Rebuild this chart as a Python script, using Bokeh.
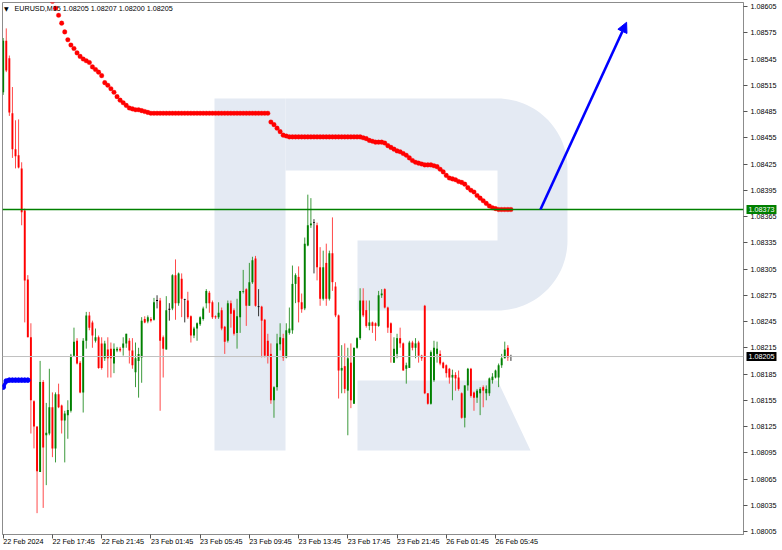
import numpy as np
from bokeh.plotting import figure
from bokeh.models import (ColumnDataSource, FixedTicker, Label, Arrow, NormalHead,
                          Range1d, Span, PrintfTickFormatter)
from bokeh.embed import file_html
from bokeh.resources import INLINE

# ---------------- data (EURUSD M15) ----------------
opens = [
    1.08507, 1.08566, 1.08546, 1.08483, 1.08442, 1.08435, 1.08420, 1.08372, 1.08293, 1.08227,
    1.08154, 1.08125, 1.08073, 1.08176, 1.08115, 1.08117, 1.08147, 1.08100, 1.08162, 1.08149,
    1.08132, 1.08138, 1.08143, 1.08206, 1.08223, 1.08198, 1.08164, 1.08223, 1.08252, 1.08244,
    1.08223, 1.08227, 1.08220, 1.08203, 1.08213, 1.08214, 1.08197, 1.08212, 1.08214, 1.08215,
    1.08220, 1.08223, 1.08212, 1.08187, 1.08200, 1.08204, 1.08248, 1.08245, 1.08248, 1.08247,
    1.08269, 1.08269, 1.08227, 1.08213, 1.08259, 1.08260, 1.08298, 1.08266, 1.08294, 1.08270,
    1.08269, 1.08251, 1.08229, 1.08237, 1.08242, 1.08248, 1.08266, 1.08278, 1.08267, 1.08251,
    1.08250, 1.08258, 1.08239, 1.08223, 1.08266, 1.08258, 1.08232, 1.08250, 1.08279, 1.08282,
    1.08263, 1.08290, 1.08317, 1.08262, 1.08262, 1.08247, 1.08223, 1.08208, 1.08155, 1.08170,
    1.08219, 1.08226, 1.08204, 1.08232, 1.08235, 1.08288, 1.08296, 1.08267, 1.08260, 1.08332,
    1.08355, 1.08358, 1.08355, 1.08307, 1.08271, 1.08312, 1.08271, 1.08323, 1.08285, 1.08252,
    1.08189, 1.08194, 1.08166, 1.08198, 1.08151, 1.08215, 1.08226, 1.08269, 1.08258, 1.08240,
    1.08244, 1.08243, 1.08240, 1.08275, 1.08282, 1.08261, 1.08243, 1.08198, 1.08208, 1.08226,
    1.08220, 1.08191, 1.08192, 1.08221, 1.08215, 1.08221, 1.08206, 1.08263, 1.08163, 1.08151,
    1.08178, 1.08208, 1.08208, 1.08198, 1.08195, 1.08191, 1.08181, 1.08184, 1.08181, 1.08163,
    1.08135, 1.08172, 1.08191, 1.08164, 1.08158, 1.08163, 1.08170, 1.08163, 1.08163, 1.08178,
    1.08181, 1.08181, 1.08195, 1.08203, 1.08215, 1.08205,
]
highs = [
    1.08569, 1.08580, 1.08549, 1.08513, 1.08475, 1.08476, 1.08427, 1.08374, 1.08298, 1.08243,
    1.08155, 1.08125, 1.08200, 1.08178, 1.08152, 1.08191, 1.08164, 1.08164, 1.08174, 1.08150,
    1.08143, 1.08155, 1.08208, 1.08238, 1.08226, 1.08200, 1.08226, 1.08256, 1.08256, 1.08246,
    1.08237, 1.08229, 1.08227, 1.08223, 1.08227, 1.08221, 1.08220, 1.08216, 1.08216, 1.08227,
    1.08231, 1.08226, 1.08226, 1.08221, 1.08215, 1.08250, 1.08251, 1.08252, 1.08250, 1.08272,
    1.08275, 1.08272, 1.08229, 1.08274, 1.08266, 1.08299, 1.08316, 1.08301, 1.08300, 1.08271,
    1.08279, 1.08252, 1.08239, 1.08244, 1.08251, 1.08262, 1.08282, 1.08280, 1.08269, 1.08252,
    1.08267, 1.08261, 1.08240, 1.08269, 1.08269, 1.08260, 1.08271, 1.08280, 1.08304, 1.08283,
    1.08312, 1.08319, 1.08320, 1.08282, 1.08263, 1.08248, 1.08231, 1.08220, 1.08171, 1.08231,
    1.08243, 1.08231, 1.08243, 1.08261, 1.08309, 1.08300, 1.08308, 1.08277, 1.08341, 1.08390,
    1.08386, 1.08362, 1.08358, 1.08330, 1.08326, 1.08334, 1.08326, 1.08364, 1.08290, 1.08253,
    1.08218, 1.08220, 1.08215, 1.08220, 1.08215, 1.08227, 1.08283, 1.08283, 1.08269, 1.08269,
    1.08245, 1.08244, 1.08280, 1.08282, 1.08283, 1.08262, 1.08244, 1.08227, 1.08231, 1.08238,
    1.08221, 1.08198, 1.08223, 1.08223, 1.08226, 1.08223, 1.08207, 1.08264, 1.08163, 1.08212,
    1.08223, 1.08222, 1.08212, 1.08199, 1.08196, 1.08192, 1.08190, 1.08187, 1.08189, 1.08164,
    1.08172, 1.08192, 1.08192, 1.08165, 1.08168, 1.08170, 1.08172, 1.08172, 1.08181, 1.08186,
    1.08190, 1.08197, 1.08208, 1.08222, 1.08218, 1.08207,
]
lows = [
    1.08504, 1.08530, 1.08480, 1.08432, 1.08420, 1.08420, 1.08355, 1.08244, 1.08227, 1.08117,
    1.08100, 1.08026, 1.08073, 1.08032, 1.08058, 1.08115, 1.08090, 1.08084, 1.08146, 1.08117,
    1.08084, 1.08111, 1.08141, 1.08205, 1.08196, 1.08163, 1.08141, 1.08214, 1.08235, 1.08215,
    1.08221, 1.08191, 1.08190, 1.08200, 1.08181, 1.08181, 1.08186, 1.08210, 1.08210, 1.08206,
    1.08215, 1.08197, 1.08191, 1.08170, 1.08158, 1.08175, 1.08243, 1.08243, 1.08244, 1.08246,
    1.08260, 1.08143, 1.08181, 1.08213, 1.08246, 1.08258, 1.08247, 1.08263, 1.08250, 1.08244,
    1.08248, 1.08221, 1.08226, 1.08223, 1.08240, 1.08246, 1.08260, 1.08255, 1.08248, 1.08248,
    1.08248, 1.08235, 1.08208, 1.08221, 1.08238, 1.08229, 1.08214, 1.08232, 1.08277, 1.08240,
    1.08263, 1.08288, 1.08262, 1.08251, 1.08204, 1.08204, 1.08197, 1.08151, 1.08135, 1.08166,
    1.08212, 1.08200, 1.08203, 1.08230, 1.08231, 1.08266, 1.08244, 1.08255, 1.08258, 1.08331,
    1.08352, 1.08300, 1.08292, 1.08263, 1.08269, 1.08263, 1.08269, 1.08280, 1.08250, 1.08157,
    1.08163, 1.08163, 1.08115, 1.08146, 1.08151, 1.08214, 1.08224, 1.08250, 1.08238, 1.08235,
    1.08232, 1.08223, 1.08239, 1.08272, 1.08260, 1.08232, 1.08198, 1.08198, 1.08203, 1.08215,
    1.08189, 1.08174, 1.08192, 1.08212, 1.08203, 1.08198, 1.08200, 1.08162, 1.08150, 1.08150,
    1.08176, 1.08198, 1.08195, 1.08191, 1.08181, 1.08174, 1.08155, 1.08166, 1.08166, 1.08134,
    1.08124, 1.08166, 1.08158, 1.08143, 1.08152, 1.08138, 1.08147, 1.08155, 1.08160, 1.08174,
    1.08180, 1.08170, 1.08192, 1.08203, 1.08200, 1.08200,
]
closes = [
    1.08566, 1.08532, 1.08484, 1.08442, 1.08434, 1.08421, 1.08370, 1.08292, 1.08227, 1.08155,
    1.08125, 1.08074, 1.08176, 1.08101, 1.08118, 1.08147, 1.08100, 1.08162, 1.08147, 1.08132,
    1.08140, 1.08144, 1.08206, 1.08222, 1.08197, 1.08164, 1.08223, 1.08252, 1.08238, 1.08229,
    1.08227, 1.08192, 1.08192, 1.08220, 1.08203, 1.08203, 1.08214, 1.08214, 1.08212, 1.08220,
    1.08231, 1.08212, 1.08195, 1.08203, 1.08208, 1.08246, 1.08244, 1.08250, 1.08246, 1.08267,
    1.08269, 1.08223, 1.08214, 1.08258, 1.08259, 1.08298, 1.08266, 1.08300, 1.08271, 1.08270,
    1.08250, 1.08229, 1.08237, 1.08243, 1.08250, 1.08260, 1.08280, 1.08266, 1.08250, 1.08250,
    1.08255, 1.08237, 1.08222, 1.08266, 1.08254, 1.08231, 1.08251, 1.08280, 1.08280, 1.08263,
    1.08290, 1.08315, 1.08263, 1.08262, 1.08246, 1.08206, 1.08205, 1.08155, 1.08170, 1.08220,
    1.08227, 1.08204, 1.08235, 1.08237, 1.08288, 1.08298, 1.08267, 1.08259, 1.08334, 1.08355,
    1.08357, 1.08358, 1.08307, 1.08271, 1.08307, 1.08271, 1.08323, 1.08290, 1.08252, 1.08189,
    1.08192, 1.08168, 1.08203, 1.08155, 1.08215, 1.08226, 1.08269, 1.08252, 1.08240, 1.08244,
    1.08240, 1.08240, 1.08275, 1.08277, 1.08261, 1.08238, 1.08232, 1.08214, 1.08226, 1.08220,
    1.08189, 1.08195, 1.08221, 1.08215, 1.08220, 1.08206, 1.08203, 1.08163, 1.08151, 1.08210,
    1.08215, 1.08214, 1.08197, 1.08192, 1.08186, 1.08181, 1.08184, 1.08180, 1.08168, 1.08135,
    1.08172, 1.08191, 1.08160, 1.08158, 1.08166, 1.08168, 1.08166, 1.08168, 1.08180, 1.08182,
    1.08189, 1.08195, 1.08203, 1.08213, 1.08204, 1.08205,
]

# red dotted indicator, starts at bar 16
ma_first_bar = 16
ma_values = [
    1.08611, 1.08603, 1.08595, 1.08586, 1.08576, 1.08567, 1.08561, 1.08557, 1.08552, 1.08548,
    1.08545, 1.08543, 1.08541, 1.08536, 1.08533, 1.08530, 1.08526, 1.08518, 1.08515, 1.08511,
    1.08507, 1.08502, 1.08498, 1.08495, 1.08492, 1.08489, 1.08488, 1.08487, 1.08487, 1.08486,
    1.08485, 1.08484, 1.08483, 1.08483, 1.08483, 1.08483, 1.08483, 1.08483, 1.08483, 1.08483,
    1.08483, 1.08483, 1.08483, 1.08483, 1.08483, 1.08483, 1.08483, 1.08483, 1.08483, 1.08483,
    1.08483, 1.08483, 1.08483, 1.08483, 1.08483, 1.08483, 1.08483, 1.08483, 1.08483, 1.08483,
    1.08483, 1.08483, 1.08483, 1.08483, 1.08483, 1.08483, 1.08483, 1.08483, 1.08483, 1.08483,
    1.08483, 1.08473, 1.08470, 1.08466, 1.08462, 1.08458, 1.08457, 1.08456, 1.08456, 1.08456,
    1.08456, 1.08456, 1.08456, 1.08456, 1.08456, 1.08456, 1.08456, 1.08456, 1.08456, 1.08456,
    1.08456, 1.08456, 1.08456, 1.08456, 1.08456, 1.08456, 1.08456, 1.08456, 1.08456, 1.08456,
    1.08456, 1.08455, 1.08454, 1.08452, 1.08451, 1.08450, 1.08450, 1.08450, 1.08449, 1.08446,
    1.08444, 1.08442, 1.08440, 1.08439, 1.08437, 1.08435, 1.08432, 1.08429, 1.08427, 1.08426,
    1.08425, 1.08424, 1.08424, 1.08424, 1.08423, 1.08422, 1.08419, 1.08416, 1.08412, 1.08409,
    1.08408, 1.08407, 1.08405, 1.08404, 1.08402, 1.08398, 1.08395, 1.08393, 1.08389, 1.08386,
    1.08383, 1.08380, 1.08377, 1.08375, 1.08374, 1.08373, 1.08373, 1.08373, 1.08373, 1.08373,
]

# blue dotted indicator, bars 0..8
blue_values = [1.08170, 1.08177, 1.08178, 1.08178, 1.08178, 1.08178, 1.08178, 1.08178, 1.08178]

level_price = 1.08373      # green horizontal level
bid_price = 1.08205        # last price line
arrow_bars = [174.6, 202.6]
arrow_prices = [1.08373, 1.08587]

time_tick_bars = [0, 16, 32, 48, 64, 80, 96, 112, 128, 144, 160]
time_tick_labels = ["22 Feb 2024", "22 Feb 17:45", "22 Feb 21:45", "23 Feb 01:45",
                    "23 Feb 05:45", "23 Feb 09:45", "23 Feb 13:45", "23 Feb 17:45",
                    "23 Feb 21:45", "26 Feb 01:45", "26 Feb 05:45"]
price_ticks = [1.08005, 1.08035, 1.08065, 1.08095, 1.08125, 1.08155, 1.08185, 1.08215,
               1.08245, 1.08275, 1.08305, 1.08335, 1.08365, 1.08395, 1.08425, 1.08455,
               1.08485, 1.08515, 1.08545, 1.08575, 1.08605]
title_text = "EURUSD,M15  1.08205 1.08207 1.08200 1.08205"

# ---------------- layout ----------------
FW, FH = 741, 532
X0, X1 = -0.2275, 240.59
Y0, Y1 = 1.080016, 1.086096
FONT = "Liberation Sans"
FS = "7.2px"


def fx(px):   # frame pixel -> bar coordinate (for decoration only)
    return X0 + (px - 2) * (X1 - X0) / FW


def fy(py):   # frame pixel -> price coordinate (for decoration only)
    return Y1 - (py - 2) * (Y1 - Y0) / FH


p = figure(frame_width=FW, frame_height=FH,
           x_range=Range1d(X0, X1), y_range=Range1d(Y0, Y1),
           y_axis_location="right", output_backend="svg", toolbar_location=None,
           min_border_left=2, min_border_top=2, min_border_right=38, min_border_bottom=13,
           background_fill_color="white", border_fill_color="white")
p.xgrid.visible = False
p.ygrid.visible = False
p.outline_line_color = "#8c8c8c"
p.outline_line_width = 1

# ---------------- watermark logo ----------------
LOGO = "#e4eaf3"
def arc(cx, cy, r, a0, a1, n=30):
    a = np.radians(np.linspace(a0, a1, n))
    return list(cx + r * np.cos(a)), list(cy - r * np.sin(a))

stem_px = ([214, 285, 285, 214], [98, 98, 450, 450])
ax1, ay1 = arc(497, 168, 70, 90, 0)
ax2, ay2 = arc(497, 240, 70, 0, -90)
bowl_xs = [285] + ax1 + ax2 + [357, 357, 497, 497, 285]
bowl_ys = [98] + ay1 + ay2 + [310, 240, 240, 170, 170]
leg_px = ([357, 497, 530, 357], [380, 380, 450, 450])
for xs, ys in (stem_px, (bowl_xs, bowl_ys), leg_px):
    p.patch([fx(v) for v in xs], [fy(v) for v in ys], fill_color=LOGO, line_color=None)

# ---------------- candles ----------------
o = np.array(opens); h = np.array(highs); l = np.array(lows); c = np.array(closes)
bars = np.arange(len(o))
colors = np.where(c > o, "#008000", np.where(c < o, "#ff0000", "#000000"))
wick_colors = np.where(c > o, "#3c9a3c", np.where(c < o, "#ff4a4a", "#333333"))
top = np.maximum(o, c); bot = np.minimum(o, c)
mid = (top + bot) / 2
minh = 0.0000100
small = (top - bot) < minh
top = np.where(small, mid + minh / 2, top)
bot = np.where(small, mid - minh / 2, bot)
src = ColumnDataSource(dict(x=bars, high=h, low=l, top=top, bottom=bot,
                            color=colors, wcolor=wick_colors))
p.segment(x0="x", y0="low", x1="x", y1="high", line_color="wcolor", line_width=1, source=src)
p.vbar(x="x", width=0.62, top="top", bottom="bottom", fill_color="color",
       line_color=None, source=src)

# ---------------- indicators ----------------
ma_x = np.arange(ma_first_bar, ma_first_bar + len(ma_values))
p.scatter(ma_x, ma_values, size=4.6, fill_color="#ff0000", line_color="#ff0000", line_width=0.3)

blue_x = np.arange(len(blue_values))
p.line(blue_x, blue_values, line_color="#0000ff", line_width=3.5)
p.scatter(blue_x, blue_values, size=4.6, fill_color="#0000ff", line_color="#0000ff")

p.add_layout(Span(location=bid_price, dimension="width", line_color="#c0c0c0", line_width=1))
p.add_layout(Span(location=level_price, dimension="width", line_color="#008000", line_width=1.6))
p.add_layout(Arrow(end=NormalHead(size=10, fill_color="#0000ff", line_color="#0000ff"),
                   x_start=arrow_bars[0], y_start=arrow_prices[0],
                   x_end=arrow_bars[1], y_end=arrow_prices[1],
                   line_color="#0000ff", line_width=2.6))

# ---------------- axes ----------------
xa = p.xaxis[0]
xa.ticker = FixedTicker(ticks=time_tick_bars)
xa.major_label_overrides = {b: t for b, t in zip(time_tick_bars, time_tick_labels)}
# a tiny negative angle makes Bokeh anchor each label at its left end (MT4 style)
xa.major_label_orientation = -0.0005
xa.major_label_text_font = FONT
xa.major_label_text_font_size = FS
xa.major_label_text_color = "#000000"
xa.major_tick_out = 4
xa.major_tick_in = 0
xa.minor_tick_out = 0
xa.minor_tick_in = 0
xa.major_tick_line_color = "#555555"
xa.axis_line_color = "#8c8c8c"
xa.major_label_standoff = 3

ya = p.yaxis[0]
ya.ticker = FixedTicker(ticks=price_ticks)
ya.formatter = PrintfTickFormatter(format="%.5f")
ya.major_label_text_font = FONT
ya.major_label_text_font_size = FS
ya.major_label_text_color = "#000000"
ya.major_tick_out = 4
ya.major_tick_in = 0
ya.minor_tick_out = 0
ya.minor_tick_in = 0
ya.major_tick_line_color = "#555555"
ya.axis_line_color = "#8c8c8c"
ya.major_label_standoff = 3

# ---------------- texts ----------------
p.add_layout(Label(x=fx(3.5), y=fy(8), text="▼", text_font="DejaVu Sans",
                   text_font_size="6px", text_baseline="middle", text_color="#000000"))
p.add_layout(Label(x=fx(14), y=fy(8), text=title_text, text_font=FONT,
                   text_font_size=FS, text_baseline="middle", text_color="#000000"))
# price tags in the right-hand price scale (side panel => not clipped to the frame)
p.add_layout(Label(x=X1, y=level_price, x_offset=3, text=f"{level_price:.5f}",
                   text_font=FONT, text_font_size=FS, text_baseline="middle",
                   text_color="white", background_fill_color="#008000", padding=2), "right")
p.add_layout(Label(x=X1, y=bid_price, x_offset=3, text=f"{bid_price:.5f}",
                   text_font=FONT, text_font_size=FS, text_baseline="middle",
                   text_color="white", background_fill_color="#000000", padding=2), "right")

open("out.html", "w").write(file_html(p, INLINE))
